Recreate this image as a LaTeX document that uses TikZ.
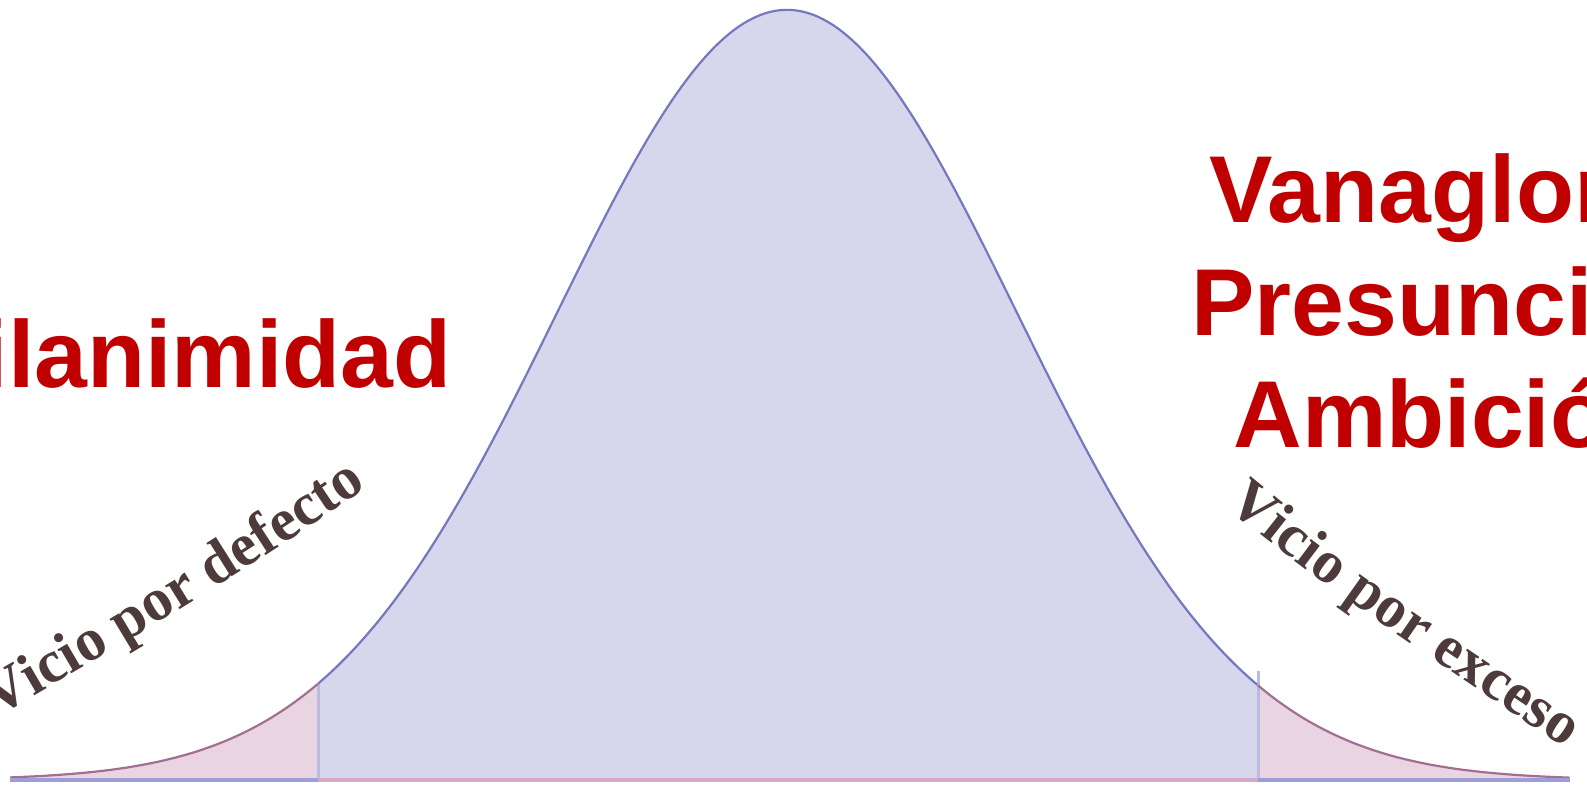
\documentclass[tikz,border=0pt]{standalone}
\usepackage{fontspec}
\setmainfont{Liberation Sans}
\newfontfamily\vserif{Liberation Serif}
\usetikzlibrary{decorations.text}
\definecolor{midfill}{HTML}{D6D7EC}
\definecolor{tailfill}{HTML}{E9D4E1}
\definecolor{midline}{HTML}{7478BE}
\definecolor{tailline}{HTML}{A46E93}
\definecolor{cutline}{HTML}{B9BBE0}
\definecolor{baseblue}{HTML}{9C9ED4}
\definecolor{basepink}{HTML}{D4A9C6}
\definecolor{vicered}{HTML}{C00000}
\definecolor{vicebrown}{HTML}{4D3B3B}
\newcommand{\vicefont}{\vserif\bfseries\fontsize{30}{35}\selectfont}
\tikzset{
  redtxt/.style={text=vicered, inner sep=0pt, font=\bfseries\fontsize{47.5}{57}\selectfont},
  curvetxt/.style={decorate, decoration={text along path, text align={left},
     text color=vicebrown, text={#1}}},
  bell/.style={samples=80, variable=\u}
}
\begin{document}
\begin{tikzpicture}[x=0.5pt,y=0.5pt]
\useasboundingbox (0,0) rectangle (1587,796);
\clip (0,0) rectangle (1587,796);
% fills
\fill[tailfill] (10,16) -- plot[bell, domain=-3.378:-2.039] ({787+230*\u},{16+770*exp(-0.5*(\u)^2)}) -- (318,16) -- cycle;
\fill[tailfill] (1258,16) -- plot[bell, domain=2.048:3.404] ({787+230*\u},{16+770*exp(-0.5*(\u)^2)}) -- (1570,16) -- cycle;
\fill[midfill] (318,16) -- plot[bell, samples=200, domain=-2.039:2.048] ({787+230*\u},{16+770*exp(-0.5*(\u)^2)}) -- (1258,16) -- cycle;
% cut lines
\draw[cutline, line width=1.5pt] (318,16) -- (318,112);
\draw[cutline, line width=1.5pt] (1258,16) -- (1258,125);
% outlines
\draw[tailline, line width=1.1pt] plot[bell, domain=-3.378:-2.039] ({787+230*\u},{16+770*exp(-0.5*(\u)^2)});
\draw[tailline, line width=1.1pt] plot[bell, domain=2.048:3.404] ({787+230*\u},{16+770*exp(-0.5*(\u)^2)});
\draw[midline, line width=1.1pt] plot[bell, samples=200, domain=-2.039:2.048] ({787+230*\u},{16+770*exp(-0.5*(\u)^2)});
% baseline
\draw[baseblue, line width=2pt] (10,16) -- (318,16);
\draw[basepink, line width=2pt] (318,16) -- (1258,16);
\draw[baseblue, line width=2pt] (1258,16) -- (1570,16);
% red labels
\node[redtxt, anchor=base east] (pus) at (452,408) {Pusilanimidad};
\node[redtxt, anchor=base] (van) at (1450,573) {Vanagloria};
\node[redtxt, anchor=base] (pre) at (1450,460) {Presunción};
\node[redtxt, anchor=base] (amb) at (1450,348) {Ambición};
% curved labels
\path[curvetxt={|\vicefont|Vicio por defecto}] (-4,78) .. controls (120,150) and (250,225) .. (420,345);
\path[curvetxt={|\vicefont|Vicio por exceso}] (1226,290) .. controls (1318,212) and (1435,135) .. (1600,25);
\end{tikzpicture}
\end{document}
